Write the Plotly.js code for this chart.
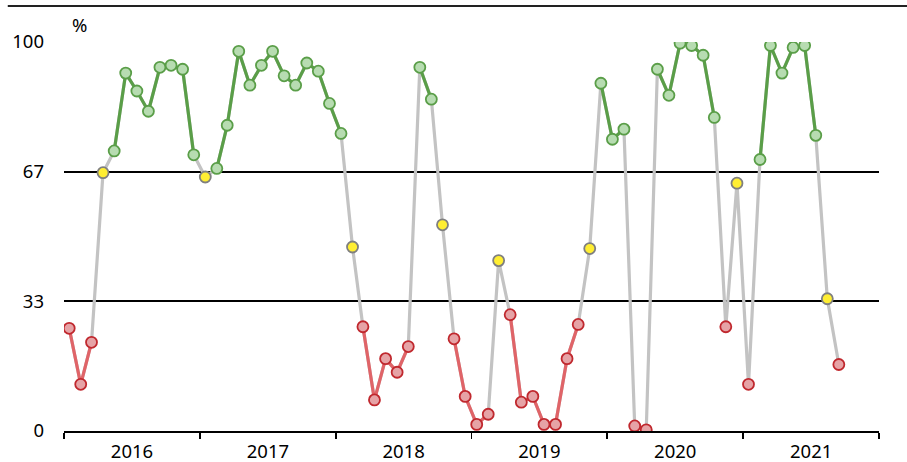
<!DOCTYPE html>
<html>
<head>
<meta charset="utf-8">
<script src="https://cdn.plot.ly/plotly-3.0.1.min.js"></script>
<style>html,body{margin:0;padding:0;background:#fff;}#chart{width:907px;height:462px;}</style>
</head>
<body>
<div id="chart"></div>
<script>
// Monthly share (%) starting January 2016
var startYear = 2016;
var values = [
  26.4, 12.0, 22.8, 66.4, 72.0, 92.0, 87.4, 82.2, 93.5, 94.0, 93.0, 71.0,
  65.3, 67.5, 78.6, 97.6, 88.9, 94.0, 97.6, 91.3, 88.9, 94.6, 92.5, 84.2,
  76.5, 47.3, 26.8, 8.0, 18.6, 15.1, 21.7, 93.5, 85.3, 53.0, 23.7, 8.9,
  1.7, 4.3, 43.8, 29.9, 7.4, 8.9, 1.7, 1.7, 18.6, 27.4, 46.9, 89.4,
  75.0, 77.6, 1.3, 0.3, 93.0, 86.3, 99.7, 99.1, 96.6, 80.6, 26.8, 63.7,
  12.0, 69.8, 99.1, 92.0, 98.6, 99.1, 76.0, 34.0, 17.1
];
var yTickVals = [0, 100/3, 200/3, 100];
var yTickText = ['0', '33', '67', '100'];
var lowLimit = 100/3, highLimit = 200/3;

var months = values.map(function(v, i){
  var y = startYear + Math.floor(i/12), m = (i % 12) + 1;
  return y + '-' + (m < 10 ? '0' + m : m) + '-15';
});

var greenLine = '#5a9e48', greenFill = '#b7dcb1';
var redLine = '#e06468', redEdge = '#c0282e', redFill = '#e6a3a6';
var grayLine = '#c3c3c3';
var yellowFill = '#ffee33', yellowEdge = '#7f7f7f';

function cls(v){ return v > highLimit ? 'g' : (v < lowLimit ? 'r' : 'y'); }
function pick(c){ return values.map(function(v){ return cls(v) === c ? v : null; }); }

var traces = [
  {x: months, y: values, mode: 'lines', line: {color: grayLine, width: 3.2}, hoverinfo: 'skip'},
  {x: months, y: pick('r'), mode: 'lines', line: {color: redLine, width: 3.2}, connectgaps: false},
  {x: months, y: pick('g'), mode: 'lines', line: {color: greenLine, width: 3.2}, connectgaps: false},
  {x: months, y: pick('r'), mode: 'markers', marker: {size: 11, color: redFill, line: {color: redEdge, width: 1.8}}},
  {x: months, y: pick('y'), mode: 'markers', marker: {size: 11, color: yellowFill, line: {color: yellowEdge, width: 1.8}}},
  {x: months, y: pick('g'), mode: 'markers', marker: {size: 11, color: greenFill, line: {color: greenLine, width: 1.8}}}
];

var font = {family: 'Noto Sans, sans-serif', size: 18.5, color: '#000'};
var layout = {
  width: 907, height: 462,
  margin: {l: 64, r: 28, t: 42, b: 31},
  paper_bgcolor: '#fff', plot_bgcolor: '#fff',
  showlegend: false,
  font: font,
  xaxis: {
    type: 'date',
    range: ['2016-01-01', '2022-01-01'],
    tick0: '2016-01-01', dtick: 'M12',
    ticklabelmode: 'period', tickformat: '%Y',
    ticks: 'outside', ticklen: 6, tickwidth: 1.8, tickcolor: '#000',
    ticklabelstandoff: -3,
    showline: true, linecolor: '#000', linewidth: 2,
    showgrid: false, zeroline: false,
    tickfont: font, fixedrange: true
  },
  yaxis: {
    range: [0, 100],
    tickvals: yTickVals, ticktext: yTickText,
    showgrid: true, gridcolor: '#000', gridwidth: 2,
    zeroline: false, showline: false, ticks: '',
    ticklabelstandoff: 19,
    tickfont: font, fixedrange: true
  },
  shapes: [
    {type: 'line', xref: 'paper', yref: 'paper', x0: -0.069, x1: 1.04, y0: 1.0925, y1: 1.0925,
     line: {color: '#222', width: 1.8}}
  ],
  annotations: [
    {text: '%', xref: 'paper', yref: 'paper', x: 0.0196, y: 1.044, showarrow: false,
     xanchor: 'center', yanchor: 'middle', font: font}
  ]
};

Plotly.newPlot('chart', traces, layout, {displayModeBar: false, staticPlot: true});
</script>
</body>
</html>
